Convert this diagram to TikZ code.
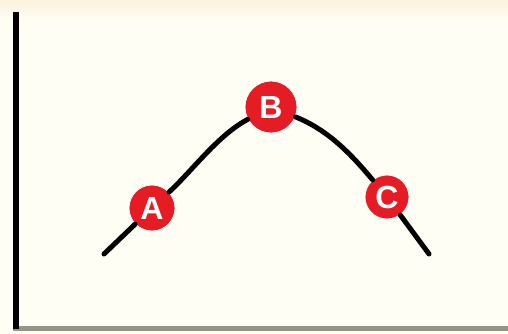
\documentclass[tikz,border=0pt]{standalone}
\usepackage{fontspec}
\setmainfont{Liberation Sans}
\usetikzlibrary{positioning, arrows.meta}
\definecolor{peakred}{RGB}{230, 28, 36}
\definecolor{paper}{RGB}{255, 254, 245}
\definecolor{papertop}{RGB}{252, 242, 222}
\definecolor{shadow}{RGB}{150, 148, 132}
\tikzset{
  point/.style={
    circle,
    fill=peakred,
    draw=white,
    line width=0.8pt,
    inner sep=0pt,
    font=\fontsize{32}{32}\selectfont\bfseries\color{white}
  },
  curve/.style={
    line width=5pt,
    line cap=round,
    draw=black
  }
}
\begin{document}
\begin{tikzpicture}[x=1pt, y=-1pt]
          % background
          \useasboundingbox (0, 0) rectangle (508, 334);
          \fill[paper] (0, 0) rectangle (508, 334);
          \shade[top color=papertop, bottom color=paper] (0, 0) rectangle (508, 22);
          \fill[shadow] (13, 326) rectangle (508, 331);
          \fill[black] (13, 12) rectangle (19, 329);

          \coordinate (start) at (104, 254);
          \coordinate (end) at (429, 254);
          \node[point, minimum size=46pt] (A) at (152, 208) {A};
          \node[point, minimum size=52pt] (B) at (271, 107) {B};
          \node[point, minimum size=44pt] (C) at (387, 197) {C};

          \path (start) edge[curve] (A)
                (A) edge[curve, out=43, in=208, looseness=0.8] (B)
                (B) edge[curve, out=-22, in=130, looseness=0.9] (C)
                (C) edge[curve] (end);
        \end{tikzpicture}
\end{document}
